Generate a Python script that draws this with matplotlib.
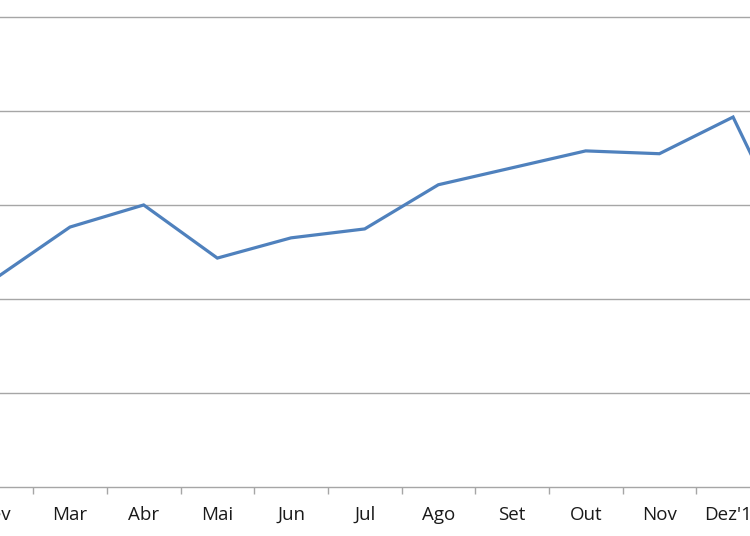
import numpy as np
import matplotlib.pyplot as plt
from matplotlib import transforms

# meses e valores
meses = ['Fev', 'Mar', 'Abr', 'Mai', 'Jun', 'Jul', 'Ago', 'Set', 'Out', 'Nov', "Dez'12", 'Jan']
valores = [44.5, 55.3, 60.0, 48.7, 53.0, 54.9, 64.3, 67.9, 71.5, 70.9, 78.7, 46.2]
grelha = [0, 20, 40, 60, 80, 100]

fig = plt.figure(figsize=(7.5, 5.36), dpi=100)
ax = fig.add_axes([0, 0.0914, 1, 0.9086])

x = np.arange(len(meses))
ax.plot(x, valores, color='#4f81bd', linewidth=2.3, solid_joinstyle='miter')

for g in grelha[1:]:
    ax.axhline(g, color='#a6a6a6', linewidth=1, zorder=0)

for s in ['top', 'right', 'left']:
    ax.spines[s].set_visible(False)
ax.spines['bottom'].set_color('#a6a6a6')
ax.spines['bottom'].set_linewidth(1)

ax.set_yticks([])
ax.set_xticks(x[:-1] + 0.5)
ax.set_xticklabels([])
ax.tick_params(axis='x', direction='out', length=5, width=1, color='#a6a6a6')

# limites depois dos ticks (set_xticks alarga a vista)
ax.set_xlim(0.05, 10.23)
ax.set_ylim(0, 103.6)

trans = transforms.blended_transform_factory(ax.transData, fig.transFigure)
for i, m in enumerate(meses):
    ax.text(i, 0.04, m, transform=trans, ha='center', va='center',
            fontsize=13.5, family='Open Sans', color='#1a1a1a', clip_on=False)

fig.savefig('out.png', dpi=100)
